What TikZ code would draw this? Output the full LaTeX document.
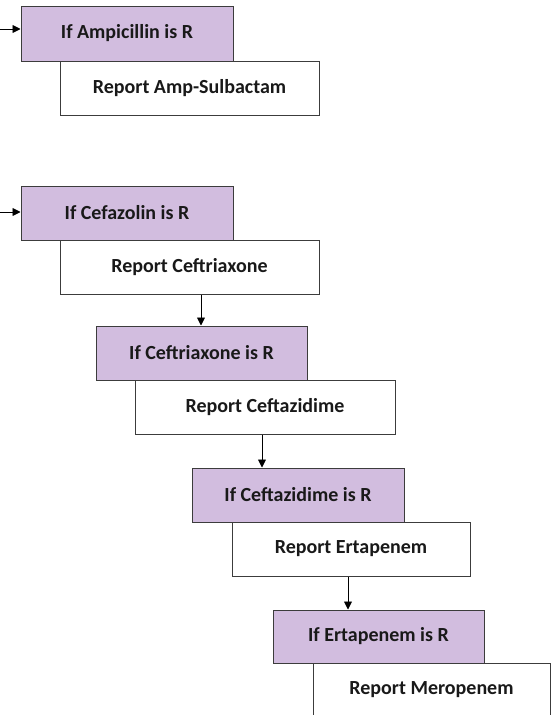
\documentclass[tikz,border=0pt]{standalone}
\usepackage{fontspec}
\setmainfont{Carlito}
\usetikzlibrary{arrows.meta}
\definecolor{lav}{RGB}{210,189,223}
\definecolor{edge}{RGB}{60,60,60}
\tikzset{
  box/.style={draw=edge, line width=1pt, inner sep=0pt, font=\bfseries\fontsize{20}{22}\selectfont, text=black!90},
  cond/.style={box, fill=lav},
  rep/.style={box, fill=white},
  conn/.style={draw=black, line width=0.9pt, -{Triangle[length=8pt,width=8pt]}}
}
\begin{document}
\begin{tikzpicture}[x=1pt,y=-1pt]
\useasboundingbox (0,0) rectangle (551,715);
\clip (0,0) rectangle (551,715);
% group A
\node[rep, minimum width=259pt, minimum height=54pt] (a2) at (189.5,88) {Report Amp-Sulbactam};
\node[cond, minimum width=212pt, minimum height=55pt] (a1) at (127,33.5) {If Ampicillin is R};
\coordinate (a0) at (0,29);
% group B
\node[rep, minimum width=259pt, minimum height=54pt] (b2) at (189.5,267) {Report Ceftriaxone};
\node[cond, minimum width=212pt, minimum height=54pt] (b1) at (127,213) {If Cefazolin is R};
\coordinate (b0) at (0,212);
\node[rep, minimum width=260pt, minimum height=54pt] (b4) at (265,407) {Report Ceftazidime};
\node[cond, minimum width=211pt, minimum height=54pt] (b3) at (201.5,353) {If Ceftriaxone is R};
\node[rep, minimum width=238pt, minimum height=54pt] (c2) at (351,549) {Report Ertapenem};
\node[cond, minimum width=212pt, minimum height=54pt] (c1) at (298,495) {If Ceftazidime is R};
\node[rep, minimum width=237pt, minimum height=54pt] (d2) at (431.5,690) {Report Meropenem};
\node[cond, minimum width=211pt, minimum height=53pt] (d1) at (378.5,636.5) {If Ertapenem is R};
% connectors
\draw[conn] (a0) -- (a1.west |- a0);
\draw[conn] (b0) -- (b1.west |- b0);
\draw[conn] (b2.south -| 201,0) -- (b3.north -| 201,0);
\draw[conn] (b4.south -| 262,0) -- (c1.north -| 262,0);
\draw[conn] (c2.south -| 348,0) -- (d1.north -| 348,0);
\end{tikzpicture}
\end{document}
